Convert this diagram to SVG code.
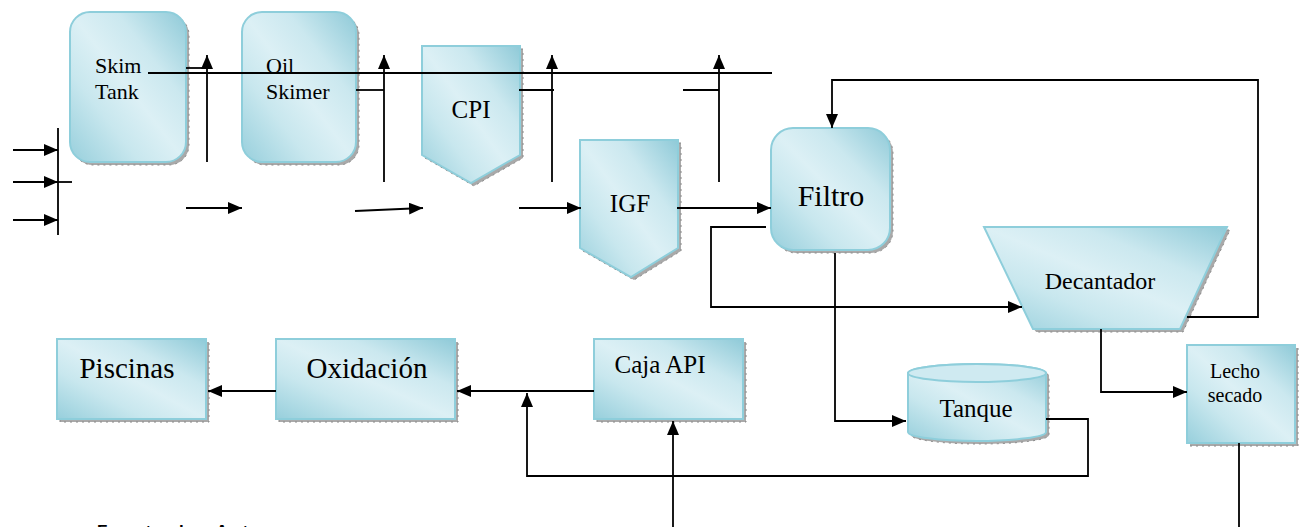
<svg xmlns="http://www.w3.org/2000/svg" width="1301" height="527" viewBox="0 0 1301 527">
<style>
.sh{fill:#a9a9a9;stroke:#8a8a8a;stroke-width:1;stroke-dasharray:2 4}
.bx{fill:url(#g);stroke:#8ecedb;stroke-width:2}
.t{font-family:"Liberation Serif","Times New Roman","DejaVu Serif",serif;fill:#000;text-anchor:middle}
.s{text-anchor:start}
.ln{fill:none;stroke:#000;stroke-width:1.8}
.ar{fill:none;stroke:#000;stroke-width:1.8;marker-end:url(#arr)}
</style>
<defs>
<linearGradient id="g" x1="1" y1="0" x2="0" y2="1">
<stop offset="0" stop-color="#8fcad8"/>
<stop offset="0.3" stop-color="#cbe8ef"/>
<stop offset="0.5" stop-color="#dcf0f5"/>
<stop offset="0.7" stop-color="#c8e7ee"/>
<stop offset="1" stop-color="#97cfdc"/>
</linearGradient>
<marker id="arr" viewBox="0 0 14 12" refX="14" refY="6" markerWidth="14" markerHeight="12" orient="auto" markerUnits="userSpaceOnUse">
<path d="M0,0 L14,6 L0,12 z" fill="#000"/>
</marker>
</defs>

<g id="skim-tank">
<rect class="sh" x="73" y="15" width="116" height="150" rx="20"/>
<rect class="bx" x="70" y="12" width="116" height="150" rx="20"/>
<text class="t s" x="95" y="73" font-size="22" font-family="Liberation Serif, serif">Skim</text>
<text class="t s" x="95" y="99" font-size="22" font-family="Liberation Serif, serif">Tank</text>
</g>

<g id="oil-skimer">
<rect class="sh" x="245" y="15" width="114" height="150" rx="20"/>
<rect class="bx" x="242" y="12" width="114" height="150" rx="20"/>
<text class="t s" x="266" y="73" font-size="22" font-family="Liberation Serif, serif">Oil</text>
<text class="t s" x="266" y="99" font-size="22" font-family="Liberation Serif, serif">Skimer</text>
</g>

<g id="cpi">
<polygon class="sh" points="425,49 523,49 523,158 474,186 425,158"/>
<polygon class="bx" points="422,46 520,46 520,155 471,183 422,155"/>
<text class="t" x="471" y="118" font-size="25" font-family="Liberation Serif, serif">CPI</text>
</g>

<g id="igf">
<polygon class="sh" points="583,143 681,143 681,251 634,280 583,251"/>
<polygon class="bx" points="580,140 678,140 678,248 631,277 580,248"/>
<text class="t" x="630" y="212" font-size="25" font-family="Liberation Serif, serif">IGF</text>
</g>

<g id="filtro">
<rect class="sh" x="774" y="131" width="119" height="122" rx="22"/>
<rect class="bx" x="771" y="128" width="119" height="122" rx="22"/>
<text class="t" x="831" y="206" font-size="30" font-family="Liberation Serif, serif">Filtro</text>
</g>

<g id="decantador">
<polygon class="sh" points="987,230 1230,230 1183,332 1036,332"/>
<polygon class="bx" points="984,227 1227,227 1180,329 1033,329"/>
<text class="t" x="1100" y="289" font-size="24" font-family="Liberation Serif, serif">Decantador</text>
</g>

<g id="tanque">
<path class="sh" d="M911,376 A69,9 0 0 1 1049,376 L1049,435 A69,9 0 0 1 911,435 Z"/>
<path class="bx" d="M908,373 A69,9 0 0 1 1046,373 L1046,432 A69,9 0 0 1 908,432 Z"/>
<ellipse cx="977" cy="373" rx="69" ry="9" fill="#cfeaf1" stroke="#8ecedb" stroke-width="2"/>
<text class="t" x="976" y="417" font-size="25" font-family="Liberation Serif, serif">Tanque</text>
</g>

<g id="lecho-secado">
<rect class="sh" x="1190" y="348" width="108" height="98"/>
<rect class="bx" x="1187" y="345" width="108" height="98"/>
<text class="t" x="1235" y="378" font-size="20" font-family="Liberation Serif, serif">Lecho</text>
<text class="t" x="1235" y="402" font-size="20" font-family="Liberation Serif, serif">secado</text>
</g>

<g id="caja-api">
<rect class="sh" x="597" y="342" width="149" height="80"/>
<rect class="bx" x="594" y="339" width="149" height="80"/>
<text class="t" x="660" y="373" font-size="25" font-family="Liberation Serif, serif">Caja API</text>
</g>

<g id="oxidacion">
<rect class="sh" x="279" y="342" width="179" height="80"/>
<rect class="bx" x="276" y="339" width="179" height="80"/>
<text class="t" x="367" y="378" font-size="29" font-family="Liberation Serif, serif">Oxidación</text>
</g>

<g id="piscinas">
<rect class="sh" x="60" y="342" width="149" height="80"/>
<rect class="bx" x="57" y="339" width="149" height="80"/>
<text class="t" x="127" y="378" font-size="29" font-family="Liberation Serif, serif">Piscinas</text>
</g>

<g id="connectors">
<line class="ln" x1="148" y1="73" x2="772" y2="73"/>
<line class="ln" x1="186" y1="68" x2="207" y2="68"/>
<line class="ar" x1="207" y1="162" x2="207" y2="55"/>
<line class="ln" x1="356" y1="90" x2="384" y2="90"/>
<line class="ar" x1="384" y1="182" x2="384" y2="55"/>
<line class="ln" x1="519" y1="90" x2="554" y2="90"/>
<line class="ar" x1="552" y1="182" x2="552" y2="55"/>
<line class="ln" x1="683" y1="90" x2="719" y2="90"/>
<line class="ar" x1="719" y1="182" x2="719" y2="55"/>

<line class="ln" x1="58" y1="128" x2="58" y2="235"/>
<line class="ar" x1="13" y1="150" x2="58" y2="150"/>
<line class="ar" x1="13" y1="182" x2="58" y2="182"/>
<line class="ln" x1="58" y1="182" x2="72" y2="182"/>
<line class="ar" x1="13" y1="220" x2="58" y2="220"/>

<line class="ar" x1="186" y1="208" x2="242" y2="208"/>
<line class="ar" x1="355" y1="211" x2="423" y2="208"/>
<line class="ar" x1="519" y1="208" x2="581" y2="208"/>
<line class="ar" x1="677" y1="208" x2="771" y2="208"/>

<polyline class="ar" points="766,227 711,227 711,307 1022,307"/>
<polyline class="ar" points="1187,317 1258,317 1258,80 832,80 832,128"/>
<polyline class="ar" points="835,253 835,421 906,421"/>
<polyline class="ar" points="1101,329 1101,392 1187,392"/>
<polyline class="ar" points="1046,419 1088,419 1088,476 527,476 527,393"/>
<line class="ar" x1="594" y1="391" x2="457" y2="391"/>
<line class="ar" x1="276" y1="391" x2="208" y2="391"/>
<line class="ar" x1="673" y1="527" x2="673" y2="421"/>
<line class="ln" x1="1239" y1="443" x2="1239" y2="527"/>
</g>

<text x="97" y="537" font-family="Liberation Sans, Arial, sans-serif" font-size="17" font-weight="bold" letter-spacing="2">Fuente: los Autores</text>
</svg>
